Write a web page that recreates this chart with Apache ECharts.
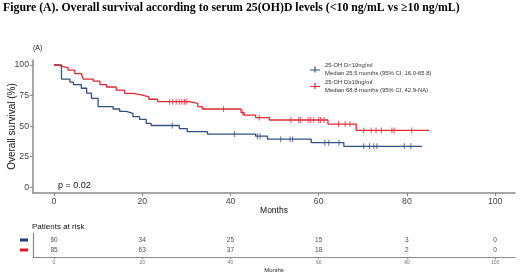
<!DOCTYPE html>
<html>
<head>
<meta charset="utf-8">
<script src="https://cdn.jsdelivr.net/npm/echarts@6/dist/echarts.min.js"></script>
<style>
html,body{margin:0;padding:0;background:#fff;}
#chart{width:520px;height:279px;}
</style>
</head>
<body>
<div id="chart"></div>
<script>
// Kaplan-Meier steps: [months, survival %]
var lowSteps = [[0,100],[1.7,88.5],[3.6,86],[4.4,84],[6.2,81],[7.4,77],[8.5,72.7],[10,66],[13.4,64],[14.9,62],[16.4,60.4],[17.9,57.7],[19.4,55.5],[20.9,52.3],[22,50.5],[28.4,48],[30.2,45.5],[34.8,43.5],[45.7,41.8],[48.4,39.3],[58.3,36.5],[65.7,33.5],[83.4,33.5]];
var highSteps = [[0,100],[1,99],[1.7,97.7],[3.2,95.8],[4.7,93],[6.2,91.7],[6.6,88.5],[8.9,86.8],[10.4,84],[11.9,82],[14.1,79.5],[16,76.8],[17.9,75.5],[19.8,74],[21.5,72],[23.5,70],[30.7,68.6],[32.6,66],[33.6,64],[42.4,61],[43.1,59],[45.7,57],[48.8,55],[62.1,51.7],[68.5,46.5],[85,46.5]];
// censored times (months)
var lowCensor = [26.8,40.9,46.1,46.7,51.4,53.5,54.1,61.4,62.3,64.6,70.2,71.5,72.5,73.2,79.4,80.9];
var highCensor = [26.2,26.9,27.7,28.4,29,29.6,30.1,38.4,42.8,46.5,53.7,55.5,55.9,57.6,58.2,58.9,60,60.4,61.2,64.5,66,67.1,70.2,71.9,73,74.2,76.6,77.1,81.1];

var seriesNames = ['25-OH D<10ng/ml', '25-OH D\u226510ng/ml'];
var medianText = ['Median 25.5 months (95% CI, 16.0-65.8)', 'Median 68.8 months (95% CI, 42.9-NA)'];

// patients at risk
var riskTimes = [0, 20, 40, 60, 80, 100];
var riskLow = [60, 34, 25, 15, 3, 0];
var riskHigh = [85, 63, 37, 18, 2, 0];

var xTicks = [0, 20, 40, 60, 80, 100];
var yTicks = [0, 25, 50, 75, 100];

var blue = '#34507f';
var red = '#dc2a36';

// value of step curve at time t
function survAt(steps, t) {
    var v = steps[0][1];
    for (var i = 0; i < steps.length; i++) {
        if (steps[i][0] <= t) v = steps[i][1];
    }
    return v;
}
function censorPts(steps, times) {
    return times.map(function (t) { return [t, survAt(steps, t)]; });
}

var myChart = echarts.init(document.getElementById('chart'));
var crossIcon = 'path://M0,4.5h10v1.2h-10z M4.4,1.5h1.2v6.2h-1.2z';
var sans = 'Liberation Sans';

var option = {
    backgroundColor: '#fff',
    animation: false,
    title: [
        {
            text: 'Figure (A). Overall survival according to serum 25(OH)D levels (<10 ng/mL vs \u226510 ng/mL)',
            left: 3, top: 2, padding: 0,
            textStyle: {fontFamily: 'Liberation Serif', fontWeight: 'bold', fontSize: 11.8, color: '#000'}
        },
        {text: '(A)', left: 33, top: 45, padding: 0, textStyle: {fontFamily: sans, fontWeight: 'normal', fontSize: 7, color: '#222'}},
        {text: 'p = 0.02', left: 58, top: 181, padding: 0, textStyle: {fontFamily: sans, fontWeight: 'normal', fontSize: 9, color: '#111'}},
        {text: 'Patients at risk', left: 32, top: 222.5, padding: 0, textStyle: {fontFamily: sans, fontWeight: 'normal', fontSize: 8, color: '#111'}}
    ],
    legend: {
        orient: 'vertical',
        left: 310, top: 61.5, padding: 0,
        itemWidth: 10, itemHeight: 7, itemGap: 0.5,
        data: [
            {name: seriesNames[0], icon: crossIcon, itemStyle: {color: blue}},
            {name: seriesNames[1], icon: crossIcon, itemStyle: {color: red}}
        ],
        formatter: function (name) {
            var i = seriesNames.indexOf(name);
            return name + '\n' + medianText[i];
        },
        textStyle: {fontFamily: sans, fontSize: 5.9, color: '#333', lineHeight: 8}
    },
    grid: [
        {left: 33, right: 5, top: 60, height: 133, outerBoundsMode: 'none', containLabel: false},
        {left: 33, right: 5, top: 233, height: 24, outerBoundsMode: 'none', containLabel: false}
    ],
    xAxis: [
        {
            type: 'value', gridIndex: 0, min: -4.76, max: 104.5,
            name: 'Months', nameLocation: 'middle', nameGap: 13, nameMoveOverlap: false,
            nameTextStyle: {fontFamily: sans, fontSize: 8.5, color: '#111'},
            axisLine: {show: true, onZero: false, lineStyle: {color: '#8a8a8a', width: 1.5}},
            axisTick: {show: true, length: 3, lineStyle: {color: '#8a8a8a'}, customValues: xTicks},
            axisLabel: {fontFamily: sans, fontSize: 8.7, color: '#444', margin: 4, customValues: xTicks},
            splitLine: {show: false}
        },
        {
            type: 'value', gridIndex: 1, min: -4.76, max: 104.5,
            name: 'Months', nameLocation: 'middle', nameGap: 10, nameMoveOverlap: false,
            nameTextStyle: {fontFamily: sans, fontSize: 6, color: '#222'},
            axisLine: {show: true, onZero: false, lineStyle: {color: '#8a8a8a', width: 1.2}},
            axisTick: {show: true, length: 2, lineStyle: {color: '#8a8a8a'}, customValues: xTicks},
            axisLabel: {fontFamily: sans, fontSize: 5, color: '#777', margin: 3, customValues: xTicks},
            splitLine: {show: false}
        }
    ],
    yAxis: [
        {
            type: 'value', gridIndex: 0, min: -4.7, max: 104.1,
            name: 'Overall survival (%)', nameLocation: 'middle', nameGap: 16, nameMoveOverlap: false,
            nameTextStyle: {fontFamily: sans, fontSize: 10, color: '#111'},
            axisLine: {show: true, onZero: false, lineStyle: {color: '#8a8a8a', width: 1.5}},
            axisTick: {show: true, length: 3, lineStyle: {color: '#8a8a8a'}, customValues: yTicks},
            axisLabel: {fontFamily: sans, fontSize: 8.7, color: '#444', margin: 4, customValues: yTicks},
            splitLine: {show: false}
        },
        {
            type: 'value', gridIndex: 1, min: 0, max: 2.4,
            axisLine: {show: true, onZero: false, lineStyle: {color: '#8a8a8a', width: 1.2}},
            axisTick: {show: false},
            axisLabel: {show: false},
            splitLine: {show: false}
        }
    ],
    graphic: [
        {type: 'rect', left: 20, top: 238.5, shape: {width: 8, height: 3}, style: {fill: '#1f3f78'}},
        {type: 'rect', left: 20, top: 248.5, shape: {width: 8, height: 3}, style: {fill: '#e3161f'}}
    ],
    series: [
        {
            name: seriesNames[0], type: 'line', step: 'end', data: lowSteps,
            xAxisIndex: 0, yAxisIndex: 0, showSymbol: false,
            lineStyle: {color: blue, width: 1.3}, itemStyle: {color: blue}
        },
        {
            name: seriesNames[1], type: 'line', step: 'end', data: highSteps,
            xAxisIndex: 0, yAxisIndex: 0, showSymbol: false,
            lineStyle: {color: red, width: 1.3}, itemStyle: {color: red}
        },
        {
            type: 'scatter', data: censorPts(lowSteps, lowCensor),
            xAxisIndex: 0, yAxisIndex: 0,
            symbol: 'rect', symbolSize: [1, 6], itemStyle: {color: blue}
        },
        {
            type: 'scatter', data: censorPts(highSteps, highCensor),
            xAxisIndex: 0, yAxisIndex: 0,
            symbol: 'rect', symbolSize: [1, 6], itemStyle: {color: red}
        },
        {
            type: 'scatter', xAxisIndex: 1, yAxisIndex: 1, symbolSize: 0,
            data: riskTimes.map(function (t, i) { return [t, 1.7, riskLow[i]]; }),
            label: {show: true, position: 'inside', formatter: function (p) { return p.value[2]; },
                fontFamily: sans, fontSize: 6.5, color: '#222'}
        },
        {
            type: 'scatter', xAxisIndex: 1, yAxisIndex: 1, symbolSize: 0,
            data: riskTimes.map(function (t, i) { return [t, 0.7, riskHigh[i]]; }),
            label: {show: true, position: 'inside', formatter: function (p) { return p.value[2]; },
                fontFamily: sans, fontSize: 6.5, color: '#222'}
        }
    ]
};
myChart.setOption(option);
</script>
</body>
</html>
